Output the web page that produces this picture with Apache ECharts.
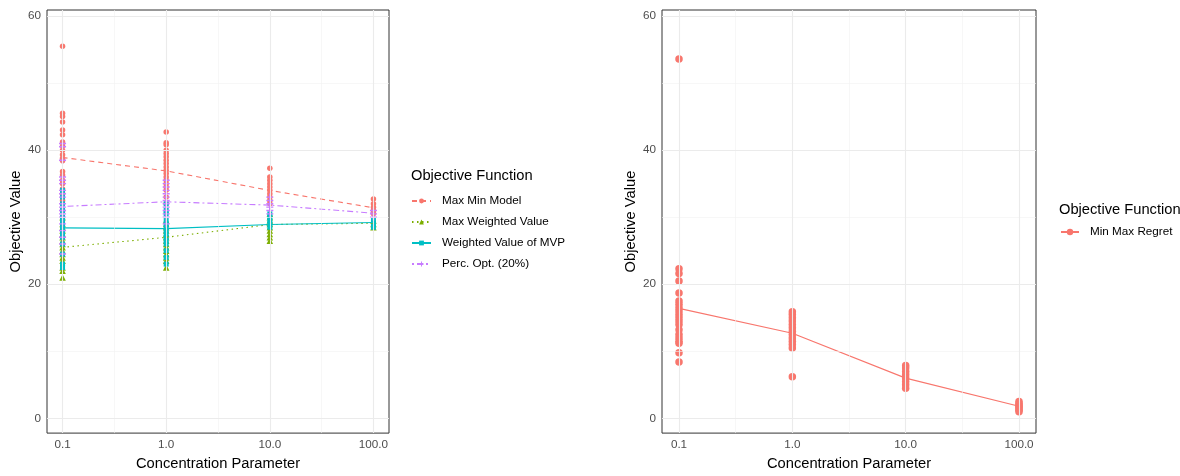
<!DOCTYPE html>
<html>
<head>
<meta charset="utf-8">
<script src="https://cdn.jsdelivr.net/npm/echarts@6/dist/echarts.min.js"></script>
<style>
html,body{margin:0;padding:0;background:#fff;}
#chart{width:1180px;height:476px;}
</style>
</head>
<body>
<div id="chart"></div>
<script>
// ---- data ----
const concentration = [0.1, 1, 10, 100];
const xTickLabels = ['0.1', '1.0', '10.0', '100.0'];
const yTickValues = [0, 20, 40, 60];

const leftNames = ['Max Min Model', 'Max Weighted Value', 'Weighted Value of MVP', 'Perc. Opt. (20%)'];
const rightName = 'Min Max Regret';

// individual points per concentration value
const maxMinModelPts = [
  [55.5, 45.5, 45.0, 44.2, 43.0, 42.3, 41.2, 40.6, 40.0, 39.3, 38.8, 38.4, 36.8, 36.3, 35.5, 35.0, 34.2, 33.5, 32.5, 31.0],
  [42.7, 41.1, 40.8, 40.0, 39.5, 39.0, 38.5, 38.0, 37.5, 37.0, 36.5, 36.0, 35.5, 35.0, 34.5, 34.0, 33.0, 32.0],
  [37.3, 36.0, 35.5, 35.0, 34.5, 34.0, 33.5, 33.0, 32.5, 32.0],
  [32.7, 32.0, 31.5, 31.0, 30.5]
];
const maxWeightedPts = [
  [30.0, 29.0, 28.5, 28.0, 27.5, 27.0, 26.5, 26.0, 25.5, 25.0, 24.5, 24.0, 23.5, 22.5, 22.0, 21.0],
  [29.5, 29.0, 28.5, 28.0, 27.5, 27.0, 26.5, 26.0, 25.5, 25.0, 24.5, 24.0, 23.5, 22.5],
  [30.5, 30.0, 29.5, 29.0, 28.5, 28.0, 27.5, 27.0, 26.5],
  [29.5, 29.0, 28.5]
];
const mvpPts = [
  [34.0, 33.0, 32.0, 31.0, 30.0, 29.5, 29.0, 28.5, 28.0, 27.5, 27.0, 26.0, 24.5, 23.0, 22.5],
  [32.0, 31.0, 30.5, 29.5, 29.0, 28.5, 28.0, 27.5, 27.0, 26.5, 26.0, 25.0, 24.0, 23.0],
  [30.5, 30.0, 29.5, 29.0, 28.5],
  [29.5, 29.0, 28.5]
];
const percOptPts = [
  [41.0, 40.5, 38.5, 36.0, 35.5, 35.0, 34.0, 33.5, 33.0, 32.0, 31.5, 31.0, 30.5, 30.0, 29.0, 28.0, 27.0, 26.0, 24.5],
  [35.5, 35.0, 34.5, 34.0, 33.5, 33.0, 32.5, 32.0, 31.5, 31.0, 30.5, 30.0, 29.0],
  [33.0, 32.5, 32.0, 31.5, 31.0, 30.5],
  [31.0, 30.5, 30.0]
];
const minMaxRegretPts = [
  [53.6, 22.3, 21.6, 20.5, 18.7, 17.5, 17.0, 16.5, 16.0, 15.5, 15.0, 14.5, 14.0, 13.2, 12.5, 12.0, 11.5, 11.2, 9.8, 8.4],
  [15.9, 15.5, 15.0, 14.5, 14.0, 13.5, 13.0, 12.5, 12.0, 11.5, 11.0, 10.5, 6.2],
  [7.9, 7.5, 7.0, 6.5, 6.0, 5.5, 5.0, 4.5],
  [2.5, 2.2, 2.0, 1.8, 1.6, 1.4, 1.2, 1.0]
];

// mean lines per concentration value
const maxMinModelMean = [38.9, 36.9, 34.0, 31.4];
const maxWeightedMean = [25.5, 27.0, 28.9, 29.1];
const mvpMean = [28.4, 28.3, 28.9, 29.2];
const percOptMean = [31.6, 32.3, 31.8, 30.6];
const minMaxRegretMean = [16.4, 12.7, 6.0, 1.8];

// ---- styles ----
const colors = ['#F8766D', '#7CAE00', '#00BFC4', '#C77CFF'];
const regretColor = '#F8766D';
const plusPath = 'path://M4,0H6V4H10V6H6V10H4V6H0V4H4Z';
const symbols = ['circle', 'triangle', 'rect', plusPath];
const symbolSizes = [5.5, 6.5, 5, 7];
const lineTypes = [[5, 4], [1.5, 3.5], 'solid', [2, 3, 6, 3]];
const FONT = 'Liberation Sans, Arial, Helvetica, sans-serif';

const lx = v => Math.log10(v);
const toPts = arr => {
  const out = [];
  arr.forEach((vals, i) => vals.forEach(v => out.push([lx(concentration[i]), v])));
  return out;
};
const toLine = arr => arr.map((v, i) => [lx(concentration[i]), v]);

const xMajor = concentration.map(lx);
const xMinor = [-0.5, 0.5, 1.5];
const yMajor = yTickValues;
const yMinor = [10, 30, 50];

function gridSeries(idx) {
  const major = {color: '#EBEBEB', width: 1.1, type: 'solid'};
  const minor = {color: '#F2F2F2', width: 0.6, type: 'solid'};
  const data = [];
  xMinor.forEach(v => data.push({xAxis: v, lineStyle: minor}));
  yMinor.forEach(v => data.push({yAxis: v, lineStyle: minor}));
  xMajor.forEach(v => data.push({xAxis: v, lineStyle: major}));
  yMajor.forEach(v => data.push({yAxis: v, lineStyle: major}));
  return {
    type: 'line', xAxisIndex: idx, yAxisIndex: idx, data: [], silent: true, z: 0,
    markLine: {silent: true, symbol: 'none', animation: false, label: {show: false}, data: data}
  };
}

function xAxisDef(idx) {
  return {
    type: 'value', gridIndex: idx, min: -1.15, max: 2.15,
    name: 'Concentration Parameter', nameLocation: 'middle', nameGap: 22,
    nameTextStyle: {color: '#000', fontSize: 14.7, fontFamily: FONT},
    axisLine: {show: false},
    axisTick: {show: true, length: 4, lineStyle: {color: '#333333', width: 1}, customValues: xMajor},
    axisLabel: {show: true, margin: 6, color: '#4D4D4D', fontSize: 11.7, fontFamily: FONT,
      customValues: xMajor,
      formatter: v => xTickLabels[Math.round(v) + 1]},
    splitLine: {show: false}
  };
}
function yAxisDef(idx) {
  return {
    type: 'value', gridIndex: idx, min: -2.2, max: 60.9,
    name: 'Objective Value', nameLocation: 'middle', nameGap: 24, nameRotate: 90,
    nameTextStyle: {color: '#000', fontSize: 14.7, fontFamily: FONT},
    axisLine: {show: false},
    axisTick: {show: true, length: 4, lineStyle: {color: '#333333', width: 1}, customValues: yMajor},
    axisLabel: {show: true, margin: 6, color: '#4D4D4D', fontSize: 11.7, fontFamily: FONT,
      customValues: yMajor, formatter: v => String(Math.round(v))},
    splitLine: {show: false}
  };
}

const leftPts = [maxMinModelPts, maxWeightedPts, mvpPts, percOptPts];
const leftMeans = [maxMinModelMean, maxWeightedMean, mvpMean, percOptMean];

const series = [gridSeries(0), gridSeries(1)];
// line series first (legend icons come from them)
leftNames.forEach((name, i) => {
  series.push({
    name: name, type: 'line', xAxisIndex: 0, yAxisIndex: 0, z: 4,
    data: toLine(leftMeans[i]), showSymbol: false, symbol: symbols[i],
    itemStyle: {color: colors[i]},
    lineStyle: {color: colors[i], width: 1.1, type: lineTypes[i]},
    animation: false
  });
});
series.push({
  name: rightName, type: 'line', xAxisIndex: 1, yAxisIndex: 1, z: 4,
  data: toLine(minMaxRegretMean), showSymbol: false, symbol: 'circle',
  itemStyle: {color: regretColor},
  lineStyle: {color: regretColor, width: 1.1, type: 'solid'},
  animation: false
});
leftNames.forEach((name, i) => {
  series.push({
    name: name, type: 'scatter', xAxisIndex: 0, yAxisIndex: 0, z: 3,
    data: toPts(leftPts[i]), symbol: symbols[i], symbolSize: symbolSizes[i],
    itemStyle: {color: colors[i], opacity: 1}, animation: false
  });
});
series.push({
  name: rightName, type: 'scatter', xAxisIndex: 1, yAxisIndex: 1, z: 3,
  data: toPts(minMaxRegretPts), symbol: 'circle', symbolSize: 7.5,
  itemStyle: {color: regretColor, opacity: 1}, animation: false
});

const option = {
  backgroundColor: '#ffffff',
  animation: false,
  textStyle: {fontFamily: FONT},
  title: [
    {text: 'Objective Function', left: 411, top: 168, padding: 0,
     textStyle: {fontSize: 14.7, fontWeight: 'normal', color: '#000', fontFamily: FONT}},
    {text: 'Objective Function', left: 1059, top: 202, padding: 0,
     textStyle: {fontSize: 14.7, fontWeight: 'normal', color: '#000', fontFamily: FONT}}
  ],
  legend: [
    {data: leftNames, orient: 'vertical', left: 411, top: 195, padding: 0,
     itemWidth: 19, itemHeight: 6, itemGap: 9, selectedMode: false,
     textStyle: {fontSize: 11.7, color: '#000', fontFamily: FONT, padding: [0, 0, 0, 6]}},
    {data: [rightName], orient: 'vertical', left: 1060, top: 226, padding: 0,
     itemWidth: 18, itemHeight: 8, itemGap: 9, selectedMode: false,
     textStyle: {fontSize: 11.7, color: '#000', fontFamily: FONT, padding: [0, 0, 0, 6]}}
  ],
  grid: [
    {left: 47, top: 10, width: 342, height: 427, show: true, borderColor: '#333333', borderWidth: 1, backgroundColor: 'transparent'},
    {left: 662, top: 10, width: 374, height: 427, show: true, borderColor: '#333333', borderWidth: 1, backgroundColor: 'transparent'}
  ],
  xAxis: [xAxisDef(0), xAxisDef(1)],
  yAxis: [yAxisDef(0), yAxisDef(1)],
  series: series
};

const chart = echarts.init(document.getElementById('chart'), null, {renderer: 'canvas'});
chart.setOption(option);
</script>
</body>
</html>
